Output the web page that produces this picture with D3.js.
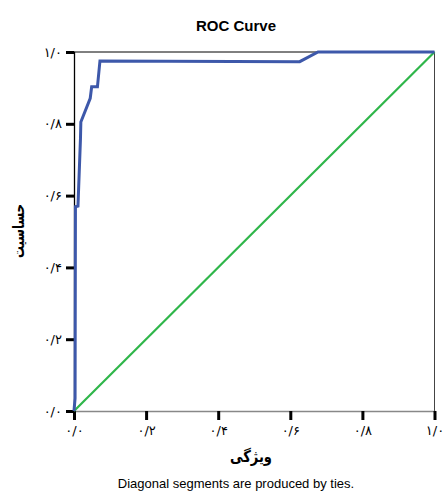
<!DOCTYPE html>
<html lang="fa">
<head>
    <meta charset="UTF-8"/>
    <title>ROC Curve</title>
    <script src="https://d3js.org/d3.v7.min.js" charset="utf-8"></script>
    <style type="text/css">
        body { margin: 0; background: #ffffff; }
        text { font-family: "Liberation Sans", Arial, sans-serif; }
        .tick-label { font-size: 13px; fill: #000; font-family: "DejaVu Sans", sans-serif; }
    </style>
</head>
<body>
<div id="chart"></div>
<script type="text/javascript">

    // ROC curve points (1 - specificity, sensitivity)
    var rocX = [0, 0.003, 0.004, 0.011, 0.018, 0.019, 0.045, 0.049, 0.065, 0.072, 0.626, 0.677, 1];
    var rocY = [0, 0.036, 0.569, 0.571, 0.76, 0.805, 0.871, 0.903, 0.903, 0.975, 0.973, 1, 1];

    // reference line
    var refX = [0, 1];
    var refY = [0, 1];

    var tickValues = [0, 0.2, 0.4, 0.6, 0.8, 1];
    var tickLabels = ["۰/۰", "۰/۲", "۰/۴", "۰/۶", "۰/۸", "۱/۰"];

    var width = 443, height = 493;
    var margin = {top: 52, right: 8, bottom: 82, left: 74};

    var svg = d3.select("#chart")
        .append("svg")
        .attr("width", width)
        .attr("height", height);

    var x = d3.scaleLinear().domain([0, 1]).range([margin.left, width - margin.right - 0.5]);
    var y = d3.scaleLinear().domain([0, 1]).range([height - margin.bottom, margin.top]);

    // frame: top and right borders
    svg.append("line")
        .attr("x1", x(0)).attr("x2", x(1))
        .attr("y1", y(1)).attr("y2", y(1))
        .attr("stroke", "#000").attr("stroke-width", 1);
    svg.append("line")
        .attr("x1", x(1)).attr("x2", x(1))
        .attr("y1", y(1)).attr("y2", y(0))
        .attr("stroke", "#444").attr("stroke-width", 1);

    // y axis
    var yAxis = svg.append("g")
        .attr("transform", "translate(" + x(0) + ",0)")
        .call(d3.axisLeft(y).tickValues(tickValues).tickSize(8).tickPadding(4)
            .tickFormat(function(d, i) { return tickLabels[i]; }));
    yAxis.select(".domain").attr("stroke", "#000").attr("stroke-width", 1.3);
    yAxis.selectAll(".tick line").attr("stroke", "#000").attr("stroke-width", 3);
    yAxis.selectAll(".tick text").attr("class", "tick-label")
        .style("direction", "ltr");
    yAxis.attr("font-family", null).attr("font-size", null);

    // x axis
    var xAxis = svg.append("g")
        .attr("transform", "translate(0," + y(0) + ")")
        .call(d3.axisBottom(x).tickValues(tickValues).tickSize(9).tickPadding(6)
            .tickFormat(function(d, i) { return tickLabels[i]; }));
    xAxis.select(".domain").attr("stroke", "#888").attr("stroke-width", 1.5);
    xAxis.selectAll(".tick line").attr("stroke", "#000").attr("stroke-width", 3);
    xAxis.selectAll(".tick text").attr("class", "tick-label")
        .style("direction", "ltr");
    xAxis.attr("font-family", null).attr("font-size", null);

    var line = d3.line()
        .x(function(d) { return x(d[0]); })
        .y(function(d) { return y(d[1]); });

    // reference diagonal
    svg.append("path")
        .datum(d3.zip(refX, refY))
        .attr("d", line)
        .attr("fill", "none")
        .attr("stroke", "#2fb64a")
        .attr("stroke-width", 2.2);

    // ROC curve
    svg.append("path")
        .datum(d3.zip(rocX, rocY))
        .attr("d", line)
        .attr("fill", "none")
        .attr("stroke", "#3d58aa")
        .attr("stroke-width", 3)
        .attr("stroke-linejoin", "miter");

    // title
    svg.append("text")
        .attr("x", 236).attr("y", 31)
        .attr("text-anchor", "middle")
        .attr("font-size", "15px")
        .attr("font-weight", "bold")
        .text("ROC Curve");

    // axis titles
    svg.append("text")
        .attr("transform", "translate(24," + 231 + ") rotate(-90)")
        .attr("text-anchor", "middle")
        .attr("font-size", "16px")
        .attr("font-weight", "bold")
        .attr("textLength", 54)
        .attr("lengthAdjust", "spacingAndGlyphs")
        .style("font-family", "'DejaVu Sans', sans-serif")
        .text("حساسیت");

    svg.append("text")
        .attr("x", 251).attr("y", 462)
        .attr("text-anchor", "middle")
        .attr("font-size", "16px")
        .attr("font-weight", "bold")
        .attr("textLength", 42)
        .attr("lengthAdjust", "spacingAndGlyphs")
        .style("font-family", "'DejaVu Sans', sans-serif")
        .text("ویژگی");

    // footnote
    svg.append("text")
        .attr("x", 236).attr("y", 488)
        .attr("text-anchor", "middle")
        .attr("font-size", "13px")
        .text("Diagonal segments are produced by ties.");
</script>
</body>
</html>
